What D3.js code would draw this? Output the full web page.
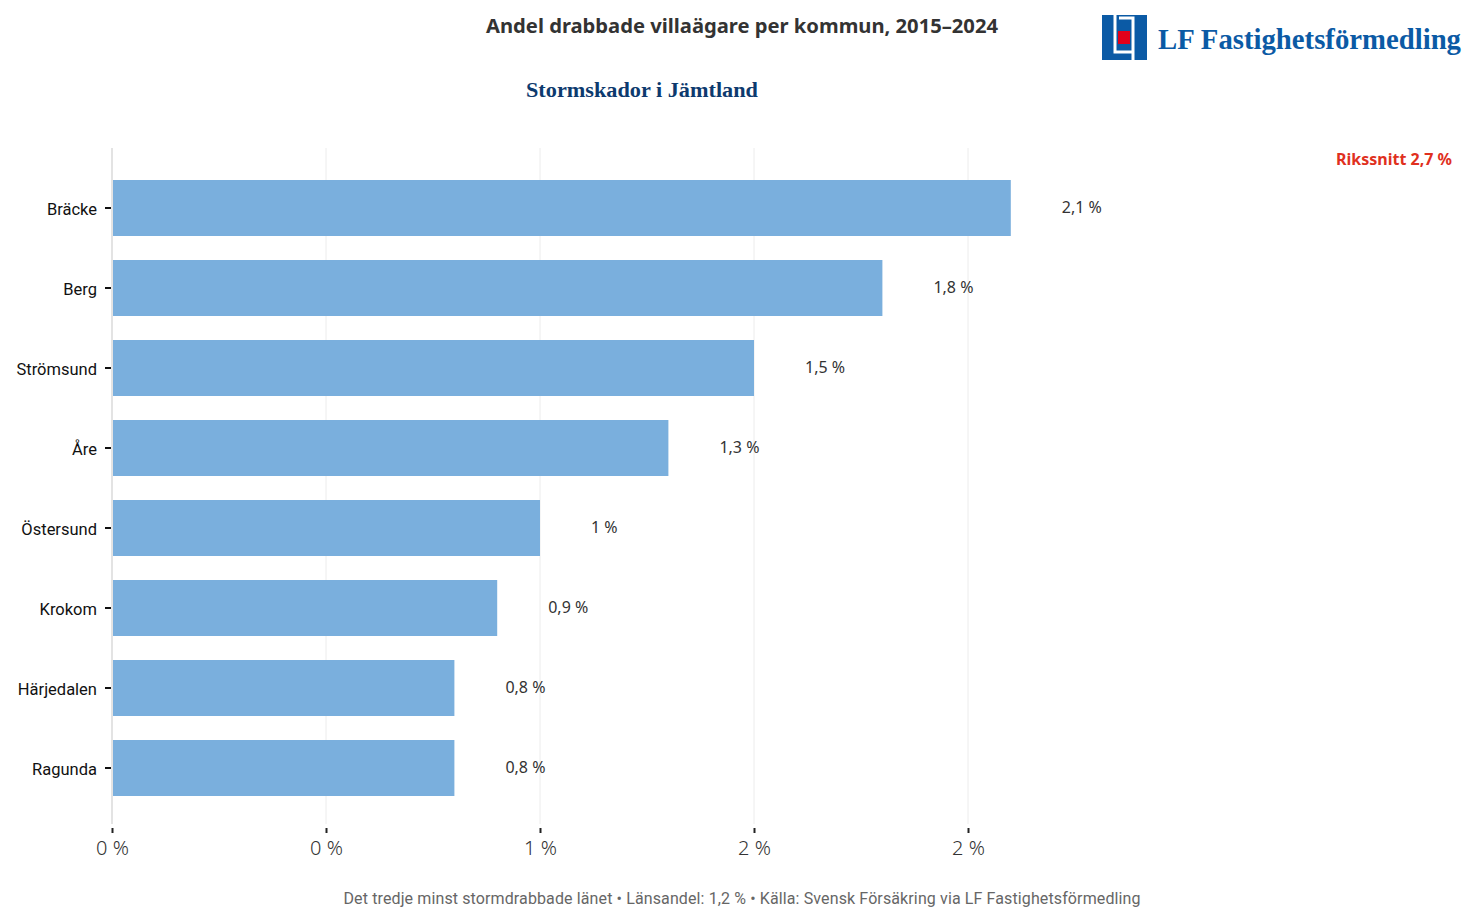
<!DOCTYPE html>
<html>
<head>
<meta charset="utf-8">
<script src="https://cdn.jsdelivr.net/npm/d3@7"></script>
<style>
  body { margin: 0; background: #fff; }
  svg { display: block; }
</style>
</head>
<body>
<svg id="chart" width="1477" height="922"></svg>
<script>
const kommuner = ['Bräcke', 'Berg', 'Strömsund', 'Åre', 'Östersund', 'Krokom', 'Härjedalen', 'Ragunda'];
const andel = [2.1, 1.8, 1.5, 1.3, 1.0, 0.9, 0.8, 0.8];
const valueLabels = ['2,1 %', '1,8 %', '1,5 %', '1,3 %', '1 %', '0,9 %', '0,8 %', '0,8 %'];
const tickValues = [0, 0.5, 1, 1.5, 2];
const tickLabels = ['0 %', '0 %', '1 %', '2 %', '2 %'];

const FONT = 'Roboto, "Noto Sans", sans-serif';
const WIDE = '"Noto Sans", Roboto, sans-serif';
const SERIF = '"Liberation Serif", "DejaVu Serif", serif';
const svg = d3.select('#chart');

const x = d3.scaleLinear()
    .domain([0, 3])
    .range([112, 112 + 3 * 428]);

const y = d3.scaleBand()
    .domain(kommuner)
    .range([148, 828])
    .paddingInner(0.3)
    .paddingOuter(0.4);

// grid
svg.append('g')
    .selectAll('line')
    .data(tickValues)
    .join('line')
    .attr('x1', d => x(d))
    .attr('x2', d => x(d))
    .attr('y1', 148)
    .attr('y2', 824)
    .attr('stroke', (d, i) => i === 0 ? '#e3e3e3' : '#ececec')
    .attr('stroke-width', (d, i) => i === 0 ? 2 : 1);

// bars
svg.append('g')
    .selectAll('rect')
    .data(kommuner)
    .join('rect')
    .attr('x', x(0) + 1)
    .attr('y', d => y(d))
    .attr('width', (d, i) => x(andel[i]) - x(0) - 1)
    .attr('height', y.bandwidth())
    .attr('fill', '#7aafdd');

// value labels
svg.append('g')
    .selectAll('text')
    .data(kommuner)
    .join('text')
    .attr('x', (d, i) => x(andel[i]) + 51)
    .attr('y', d => y(d) + y.bandwidth() / 2)
    .attr('dy', '0.3em')
    .attr('font-family', WIDE)
    .attr('font-size', 16)
    .attr('fill', '#333')
    .text((d, i) => valueLabels[i]);

// y axis
const yAxis = d3.axisLeft(y).tickSize(6).tickPadding(8);
const yg = svg.append('g')
    .attr('transform', 'translate(111,0)')
    .call(yAxis);
yg.select('.domain').remove();
yg.selectAll('.tick line').attr('stroke', '#111').attr('stroke-width', 2);
yg.selectAll('.tick text')
    .attr('dy', '0.42em')
    .attr('font-family', FONT)
    .attr('font-size', 16.5)
    .attr('fill', '#111');

// x axis
const xAxis = d3.axisBottom(x)
    .tickValues(tickValues)
    .tickFormat((d, i) => tickLabels[i])
    .tickSize(5)
    .tickPadding(8);
const xg = svg.append('g')
    .attr('transform', 'translate(0,828)')
    .call(xAxis);
xg.select('.domain').remove();
xg.selectAll('.tick line').attr('stroke', '#222').attr('stroke-width', 2);
xg.selectAll('.tick text')
    .attr('font-family', WIDE)
    .attr('font-size', 20)
    .attr('font-weight', 300)
    .attr('fill', '#333');

// titles
svg.append('text')
    .attr('x', 742)
    .attr('y', 33)
    .attr('text-anchor', 'middle')
    .attr('font-family', WIDE)
    .attr('font-size', 19)
    .attr('font-weight', 700)
    .attr('fill', '#333')
    .attr('textLength', 512)
    .attr('lengthAdjust', 'spacingAndGlyphs')
    .text('Andel drabbade villaägare per kommun, 2015–2024');

svg.append('text')
    .attr('x', 642)
    .attr('y', 97)
    .attr('text-anchor', 'middle')
    .attr('font-family', SERIF)
    .attr('font-size', 21)
    .attr('font-weight', 700)
    .attr('fill', '#0d3a6e')
    .attr('textLength', 232)
    .attr('lengthAdjust', 'spacingAndGlyphs')
    .text('Stormskador i Jämtland');

svg.append('text')
    .attr('x', 1452)
    .attr('y', 165)
    .attr('text-anchor', 'end')
    .attr('font-family', WIDE)
    .attr('font-size', 16)
    .attr('font-weight', 700)
    .attr('fill', '#e0301e')
    .text('Rikssnitt 2,7 %');

svg.append('text')
    .attr('x', 742)
    .attr('y', 904)
    .attr('text-anchor', 'middle')
    .attr('font-family', '"Liberation Sans Narrow", Roboto, sans-serif')
    .attr('font-size', 16)
    .attr('fill', '#666')
    .attr('textLength', 797)
    .attr('lengthAdjust', 'spacing')
    .text('Det tredje minst stormdrabbade länet  •  Länsandel: 1,2 %  •  Källa: Svensk Försäkring via LF Fastighetsförmedling');

// logo
const logo = svg.append('g').attr('transform', 'translate(1102,15)');
logo.append('rect').attr('width', 45).attr('height', 45).attr('fill', '#0b5aa5');
logo.append('path')
    .attr('d', 'M13,0 V37 H31 M17,3 H31 V45')
    .attr('fill', 'none')
    .attr('stroke', '#fff')
    .attr('stroke-width', 3);
logo.append('rect').attr('x', 16).attr('y', 16).attr('width', 12).attr('height', 13).attr('fill', '#e2001a');
svg.append('text')
    .attr('x', 1158)
    .attr('y', 49)
    .attr('font-family', SERIF)
    .attr('font-size', 30)
    .attr('font-weight', 700)
    .attr('fill', '#0b5aa5')
    .attr('textLength', 303)
    .attr('lengthAdjust', 'spacingAndGlyphs')
    .text('LF Fastighetsförmedling');
</script>
</body>
</html>
